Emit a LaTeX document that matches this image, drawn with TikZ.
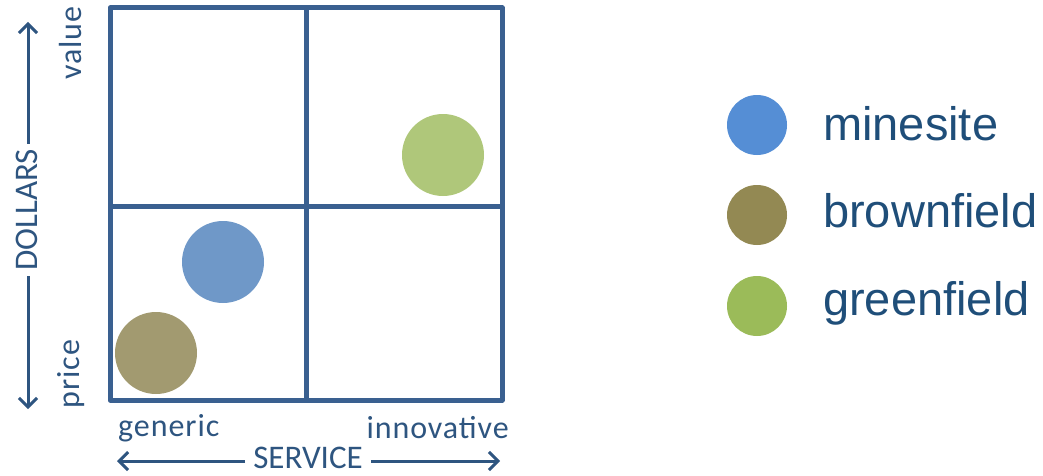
\documentclass[tikz,border=0pt]{standalone}
\usepackage{fontspec}
\setmainfont{Carlito}
\newfontfamily\axisfont{Carlito}
\newfontfamily\endfont[LetterSpace=3]{Carlito}
\newfontfamily\legendfont{Liberation Sans}
\usetikzlibrary{arrows.meta}
\definecolor{gridblue}{HTML}{3A6090}
\definecolor{axisblue}{HTML}{2E5580}
\definecolor{legendtext}{HTML}{1F4E79}
\definecolor{dotblue}{HTML}{6F98C8}
\definecolor{dotbrown}{HTML}{A29A70}
\definecolor{dotgreen}{HTML}{AFC77A}
\definecolor{keyblue}{HTML}{558ED5}
\definecolor{keybrown}{HTML}{938953}
\definecolor{keygreen}{HTML}{9BBB59}
\tikzset{
  gridline/.style={draw=gridblue, line width=5pt},
  axisline/.style={draw=axisblue, line width=3pt, -{Straight Barb[length=9pt,width=18pt,line width=3pt]}},
  axislabel/.style={text=axisblue, font=\axisfont\fontsize{33}{33}\selectfont, inner xsep=5pt, inner ysep=1pt},
  endlabel/.style={text=axisblue, font=\endfont\fontsize{32}{32}\selectfont, inner sep=0pt},
  dot/.style={circle, fill=#1, draw=none, minimum size=82pt, inner sep=0pt},
  keydot/.style={circle, fill=#1, draw=none, minimum size=60pt, inner sep=0pt},
  keytext/.style={text=legendtext, font=\legendfont\fontsize{47}{47}\selectfont, anchor=base west, inner sep=0pt},
}
\begin{document}
\begin{tikzpicture}[x=1pt, y=1pt]
\useasboundingbox (0,0) rectangle (1043,475);

% quadrant grid
\draw[gridline, line join=round] (110,75) rectangle (502,467);
\draw[gridline] (306,75) -- (306,467);
\draw[gridline] (110,269) -- (502,269);

% points on the chart
\node[dot=dotblue]  (pminesite)   at (223,213) {};
\node[dot=dotbrown] (pbrownfield) at (156,122) {};
\node[dot=dotgreen] (pgreenfield) at (443,320) {};

% vertical axis
\node[axislabel, rotate=90] (dollars) at (27,265) {DOLLARS};
\coordinate (vtop) at (28,453);
\coordinate (vbot) at (28,66);
\draw[axisline] (dollars.east -| vtop) -- (vtop);
\draw[axisline] (dollars.west -| vbot) -- (vbot);
\node[endlabel, rotate=90] (value) at (71,432) {value};
\node[endlabel, rotate=90] (price) at (71,101) {price};

% horizontal axis
\node[axislabel, inner xsep=8pt] (service) at (308,17) {SERVICE};
\coordinate (hleft) at (117,14);
\coordinate (hright) at (500,14);
\draw[axisline] (service.west |- hleft) -- (hleft);
\draw[axisline] (service.east |- hright) -- (hright);
\node[endlabel, anchor=west] (generic) at (118,47) {generic};
\node[endlabel, anchor=east] (innovative) at (509,47) {innovative};

% legend
\node[keydot=keyblue]  (kminesite)   at (757,350) {};
\node[keydot=keybrown] (kbrownfield) at (757,260) {};
\node[keydot=keygreen] (kgreenfield) at (757,169) {};
\node[keytext] (tminesite)   at (823,335) {minesite};
\node[keytext] (tbrownfield) at (823,248) {brownfield};
\node[keytext] (tgreenfield) at (823,160) {greenfield};
\end{tikzpicture}
\end{document}
